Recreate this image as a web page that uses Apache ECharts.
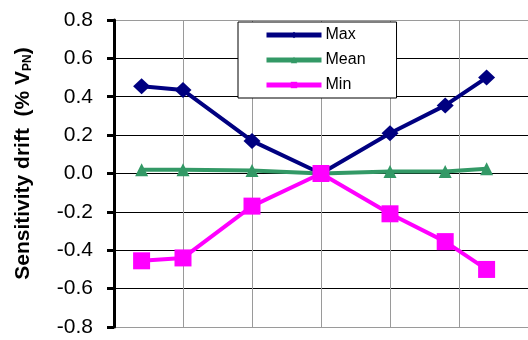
<!DOCTYPE html>
<html>
<head>
<meta charset="utf-8">
<script src="https://cdn.jsdelivr.net/npm/echarts@6/dist/echarts.min.js"></script>
<style>
  html, body { margin: 0; padding: 0; background: #fff; }
  #chart { width: 528px; height: 340px; }
</style>
</head>
<body>
<div id="chart"></div>
<script>
// temperature points (deg C) and drift values (% of V_PN)
var temps = [-40, -25, 0, 25, 50, 70, 85];
var maxDrift = [0.455, 0.435, 0.17, 0.0, 0.21, 0.355, 0.50];
var meanDrift = [0.02, 0.02, 0.015, 0.0, 0.01, 0.01, 0.025];
var minDrift = [-0.455, -0.44, -0.17, 0.0, -0.21, -0.355, -0.50];

function pairs(vals) {
  return temps.map(function (t, i) { return [t, vals[i]]; });
}

var chart = echarts.init(document.getElementById('chart'));

var option = {
  animation: false,
  textStyle: { fontFamily: 'Liberation Sans, Arial, sans-serif' },
  grid: { left: 114, width: 418, top: 20, bottom: 13 },
  legend: {
    orient: 'vertical',
    left: 238,
    top: 22,
    padding: [5, 31, 5, 26],
    itemGap: 9,
    itemWidth: 55,
    itemHeight: 8,
    backgroundColor: '#fff',
    borderColor: '#000',
    borderWidth: 1,
    borderRadius: 0,
    lineStyle: { width: 5 },
    textStyle: { fontSize: 16, color: '#000', padding: [0, 0, 0, -1] },
    data: ['Max', 'Mean', 'Min']
  },
  xAxis: {
    type: 'value',
    min: -50,
    max: 100,
    interval: 25,
    axisLine: { show: false },
    axisTick: { show: false },
    axisLabel: { show: false },
    splitLine: { show: true, lineStyle: { color: '#9a9a9a', width: 1 } }
  },
  yAxis: {
    type: 'value',
    min: -0.8,
    max: 0.8,
    interval: 0.2,
    name: '{a|Sensitivity drift  (% V}{b|PN}{a|)}',
    nameLocation: 'middle',
    nameGap: 80,
    nameRotate: 90,
    nameTextStyle: {
      padding: [0, 0, 0, 20],
      rich: {
        a: { fontSize: 21, fontWeight: 'bold', color: '#000' },
        b: { fontSize: 12, fontWeight: 'bold', color: '#000', padding: [10, 0, 0, 0] }
      }
    },
    axisLine: { show: true, onZero: false, lineStyle: { color: '#000', width: 3 } },
    axisTick: { show: true, inside: false, length: 7, lineStyle: { color: '#000', width: 3 } },
    axisLabel: {
      fontSize: 21,
      color: '#000',
      margin: 21,
      formatter: function (v) { return v.toFixed(1); }
    },
    splitLine: {
      show: true,
      lineStyle: {
        color: ['#9a9a9a', '#000', '#000', '#000', '#000', '#000', '#000', '#000', '#9a9a9a'],
        width: 1
      }
    }
  },
  series: [
    {
      name: 'Max',
      type: 'line',
      data: pairs(maxDrift),
      symbol: 'diamond',
      symbolSize: [17, 16],
      itemStyle: { color: '#000080' },
      lineStyle: { color: '#000080', width: 4 }
    },
    {
      name: 'Mean',
      type: 'line',
      data: pairs(meanDrift),
      symbol: 'triangle',
      symbolSize: 13,
      itemStyle: { color: '#339966' },
      lineStyle: { color: '#339966', width: 4 }
    },
    {
      name: 'Min',
      type: 'line',
      data: pairs(minDrift),
      symbol: 'rect',
      symbolSize: 17,
      itemStyle: { color: '#ff00ff' },
      lineStyle: { color: '#ff00ff', width: 4 }
    }
  ]
};

chart.setOption(option);
</script>
</body>
</html>
